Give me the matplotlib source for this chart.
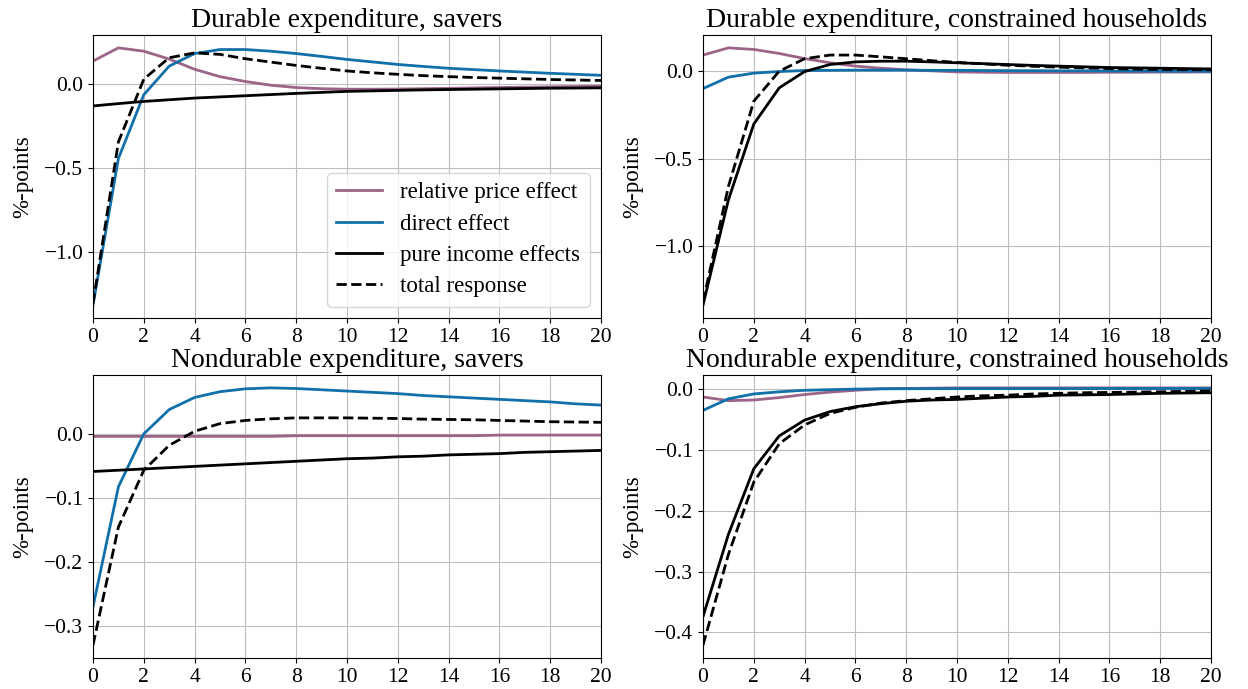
import matplotlib
matplotlib.use("Agg")
import matplotlib.pyplot as plt

plt.rcParams['font.family'] = ['Liberation Serif', 'DejaVu Serif']

horizon = list(range(21))

# Durable expenditure, savers
dur_sav_price = [0.138, 0.217, 0.197, 0.150, 0.089, 0.045, 0.016, -0.006, -0.020, -0.027,
                 -0.030, -0.030, -0.029, -0.027, -0.025, -0.022, -0.020, -0.018, -0.016, -0.014, -0.012]
dur_sav_direct = [-1.320, -0.444, -0.063, 0.108, 0.183, 0.207, 0.207, 0.197, 0.183, 0.166,
                  0.148, 0.133, 0.118, 0.106, 0.095, 0.087, 0.079, 0.072, 0.065, 0.059, 0.053]
dur_sav_income = [-0.130, -0.116, -0.103, -0.093, -0.083, -0.076, -0.069, -0.062, -0.055, -0.049,
                  -0.043, -0.040, -0.037, -0.034, -0.032, -0.030, -0.028, -0.026, -0.024, -0.023, -0.022]
dur_sav_total = [-1.310, -0.345, 0.030, 0.158, 0.187, 0.178, 0.152, 0.132, 0.112, 0.095,
                 0.079, 0.068, 0.059, 0.051, 0.045, 0.040, 0.036, 0.032, 0.028, 0.025, 0.022]

# Durable expenditure, constrained households
dur_con_price = [0.090, 0.131, 0.122, 0.099, 0.070, 0.046, 0.027, 0.015, 0.006, 0.000,
                 -0.006, -0.008, -0.009, -0.009, -0.009, -0.009, -0.008, -0.008, -0.007, -0.007, -0.006]
dur_con_direct = [-0.101, -0.036, -0.013, -0.004, 0.002, 0.003, 0.004, 0.004, 0.004, 0.003,
                  0.003, 0.002, 0.001, 0.001, 0.000, 0.000, -0.001, -0.001, -0.002, -0.002, -0.003]
dur_con_income = [-1.335, -0.735, -0.303, -0.097, -0.004, 0.036, 0.051, 0.055, 0.055, 0.051,
                  0.046, 0.041, 0.036, 0.031, 0.027, 0.023, 0.019, 0.017, 0.015, 0.013, 0.011]
dur_con_total = [-1.316, -0.659, -0.173, -0.002, 0.069, 0.090, 0.090, 0.080, 0.069, 0.058,
                 0.048, 0.040, 0.032, 0.026, 0.021, 0.017, 0.013, 0.010, 0.008, 0.007, 0.006]

# Nondurable expenditure, savers
ndur_sav_price = [-0.003, -0.003, -0.003, -0.003, -0.003, -0.003, -0.003, -0.003, -0.002, -0.002,
                  -0.002, -0.002, -0.002, -0.002, -0.002, -0.002, -0.001, -0.001, -0.001, -0.001, -0.001]
ndur_sav_direct = [-0.270, -0.082, 0.001, 0.039, 0.058, 0.067, 0.0715, 0.073, 0.072, 0.070,
                   0.068, 0.066, 0.064, 0.061, 0.059, 0.057, 0.055, 0.053, 0.051, 0.048, 0.046]
ndur_sav_income = [-0.058, -0.056, -0.054, -0.052, -0.050, -0.048, -0.046, -0.044, -0.042, -0.040,
                   -0.038, -0.037, -0.035, -0.034, -0.032, -0.031, -0.030, -0.028, -0.027, -0.026, -0.025]
ndur_sav_total = [-0.330, -0.145, -0.056, -0.017, 0.005, 0.017, 0.022, 0.0245, 0.026, 0.026,
                  0.026, 0.0255, 0.025, 0.024, 0.0235, 0.023, 0.022, 0.021, 0.020, 0.0195, 0.019]

# Nondurable expenditure, constrained households
ndur_con_price = [-0.013, -0.019, -0.018, -0.014, -0.009, -0.005, -0.002, 0.0005, 0.001, 0.0015,
                  0.002, 0.002, 0.002, 0.002, 0.002, 0.002, 0.002, 0.002, 0.002, 0.002, 0.002]
ndur_con_direct = [-0.035, -0.016, -0.008, -0.0045, -0.002, -0.001, 0.000, 0.0005, 0.0006, 0.0007,
                   0.0008, 0.0008, 0.0008, 0.0008, 0.0008, 0.0008, 0.0009, 0.0009, 0.001, 0.001, 0.001]
ndur_con_income = [-0.374, -0.239, -0.131, -0.077, -0.051, -0.037, -0.029, -0.024, -0.020, -0.018,
                   -0.017, -0.015, -0.013, -0.012, -0.010, -0.0095, -0.009, -0.008, -0.007, -0.0065, -0.006]
ndur_con_total = [-0.421, -0.272, -0.153, -0.090, -0.059, -0.040, -0.030, -0.023, -0.019, -0.016,
                  -0.013, -0.011, -0.010, -0.008, -0.007, -0.006, -0.0055, -0.005, -0.0044, -0.0037, -0.003]

titles = ["Durable expenditure, savers", "Durable expenditure, constrained households",
          "Nondurable expenditure, savers", "Nondurable expenditure, constrained households"]
labels = ["relative price effect", "direct effect", "pure income effects", "total response"]
panels = [
    (dur_sav_price, dur_sav_direct, dur_sav_income, dur_sav_total),
    (dur_con_price, dur_con_direct, dur_con_income, dur_con_total),
    (ndur_sav_price, ndur_sav_direct, ndur_sav_income, ndur_sav_total),
    (ndur_con_price, ndur_con_direct, ndur_con_income, ndur_con_total),
]
yticks = [[0.0, -0.5, -1.0], [0.0, -0.5, -1.0], [0.0, -0.1, -0.2, -0.3], [0.0, -0.1, -0.2, -0.3, -0.4]]

purple = '#9c6489'
blue = '#1170aa'

W, H = 1248, 689
fig = plt.figure(figsize=(W / 100, H / 100), dpi=100)
boxes = [(93, 35, 601, 318), (703, 35, 1211, 318), (93, 375, 601, 658), (703, 375, 1211, 658)]

for i, (box, data, title) in enumerate(zip(boxes, panels, titles)):
    x0, y0, x1, y1 = box
    ax = fig.add_axes([x0 / W, 1 - y1 / H, (x1 - x0) / W, (y1 - y0) / H])
    price, direct, income, total = data
    ax.plot(horizon, price, color=purple, lw=2, label=labels[0])
    ax.plot(horizon, direct, color=blue, lw=2, label=labels[1])
    ax.plot(horizon, income, color='black', lw=2, label=labels[2])
    ax.plot(horizon, total, color='black', lw=2, ls='--', label=labels[3])
    ax.set_xlim(0, 20)
    ax.set_xticks(range(0, 21, 2))
    ax.set_yticks(yticks[i])
    ax.set_yticklabels([f"{v:.1f}".replace('-', '\u2212') for v in yticks[i]])
    ax.grid(True, color='#bdbdbd', lw=0.8)
    ax.tick_params(length=3.5, width=0.8, labelsize=15.5)
    ax.set_title(title, fontsize=20, pad=5.5)
    ax.set_ylabel('%-points', fontsize=16.5, labelpad=8)
    if i == 0:
        ax.legend(loc='lower right', fontsize=16.5, framealpha=0.8, borderpad=0.4,
                  handlelength=2.0, labelspacing=0.45)

fig.savefig('out.png', dpi=100)
